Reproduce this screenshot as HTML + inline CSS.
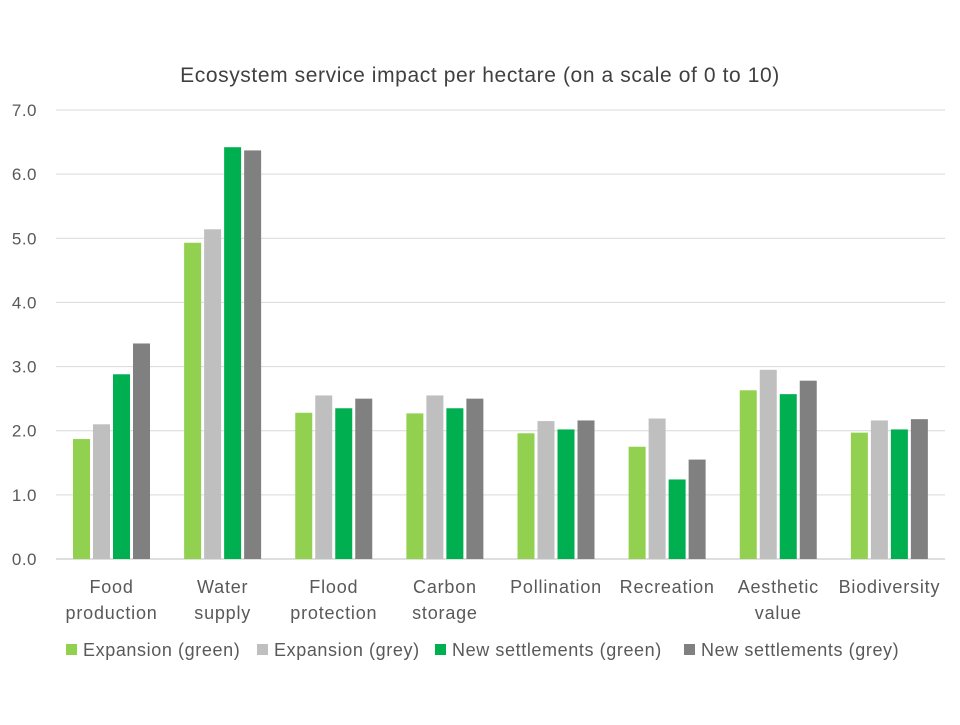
<!DOCTYPE html>
<html><head><meta charset="utf-8"><style>
body{margin:0;background:#fff;font-family:"Liberation Sans",sans-serif;}
</style></head><body>
<svg id="chart" width="960" height="720" xmlns="http://www.w3.org/2000/svg">
<rect width="960" height="720" fill="#fff"/>
<text x="480" y="82" text-anchor="middle" font-size="21" letter-spacing="0.6" fill="#404040">Ecosystem service impact per hectare (on a scale of 0 to 10)</text>
<g id="grid"></g><g id="bars"></g><g id="labels"></g><g id="legend"></g>
</svg>
<script>
const categories=[["Food","production"],["Water","supply"],["Flood","protection"],["Carbon","storage"],["Pollination"],["Recreation"],["Aesthetic","value"],["Biodiversity"]];
const seriesNames=["Expansion (green)","Expansion (grey)","New settlements (green)","New settlements (grey)"];
const expGreen=[1.87,4.93,2.28,2.27,1.96,1.75,2.63,1.97];
const expGrey=[2.1,5.14,2.55,2.55,2.15,2.19,2.95,2.16];
const newGreen=[2.88,6.42,2.35,2.35,2.02,1.24,2.57,2.02];
const newGrey=[3.36,6.37,2.5,2.5,2.16,1.55,2.78,2.18];
const yTicks=["0.0","1.0","2.0","3.0","4.0","5.0","6.0","7.0"];
const series=[expGreen,expGrey,newGreen,newGrey];
const colors=["#92D050","#BFBFBF","#00B050","#808080"];
const NS="http://www.w3.org/2000/svg";
const x0=56,x1=945,y0=559,yTop=110,ymax=7;
const y=v=>y0-(v/ymax)*(y0-yTop);
const cw=(x1-x0)/categories.length;
function mk(t,a,p){const e=document.createElementNS(NS,t);for(const k in a)e.setAttribute(k,a[k]);p.appendChild(e);return e;}
const grid=document.getElementById('grid');
yTicks.forEach((t,i)=>{const v=parseFloat(t);
 const l=mk('line',{x1:x0,x2:x1,y1:y(v),y2:y(v),stroke:i==0?'#BFBFBF':'#D9D9D9','stroke-width':1},grid);
 
 
 const tx=mk('text',{x:37,y:y(v)+6,'text-anchor':'end','font-size':17,'letter-spacing':0.5,fill:'#595959'},grid);tx.textContent=t;
 
 
});
const bars=document.getElementById('bars');
series.forEach((s,si)=>s.forEach((v,ci)=>{
 const bx=x0+ci*cw+17+si*20;
 const r=mk('rect',{x:bx,y:y(v),width:17,height:y0-y(v),fill:colors[si]},bars);
 
 
}));
const labels=document.getElementById('labels');
categories.forEach((c,ci)=>{const cx=x0+ci*cw+cw/2;
 c.forEach((ln,li)=>{const t=mk('text',{x:cx,y:593+li*26,'text-anchor':'middle','font-size':18,'letter-spacing':0.8,fill:'#595959'},labels);t.textContent=ln;
 
 });
});
const legend=document.getElementById('legend');
const lx=[66,257,435,684];
seriesNames.forEach((n,i)=>{
 const r=mk('rect',{x:lx[i],y:644,width:11,height:11,fill:colors[i]},legend);
 
 
 const t=mk('text',{x:lx[i]+17,y:656,'font-size':18,'letter-spacing':0.6,fill:'#595959'},legend);t.textContent=n;
 
 
});
</script>
</body></html>
